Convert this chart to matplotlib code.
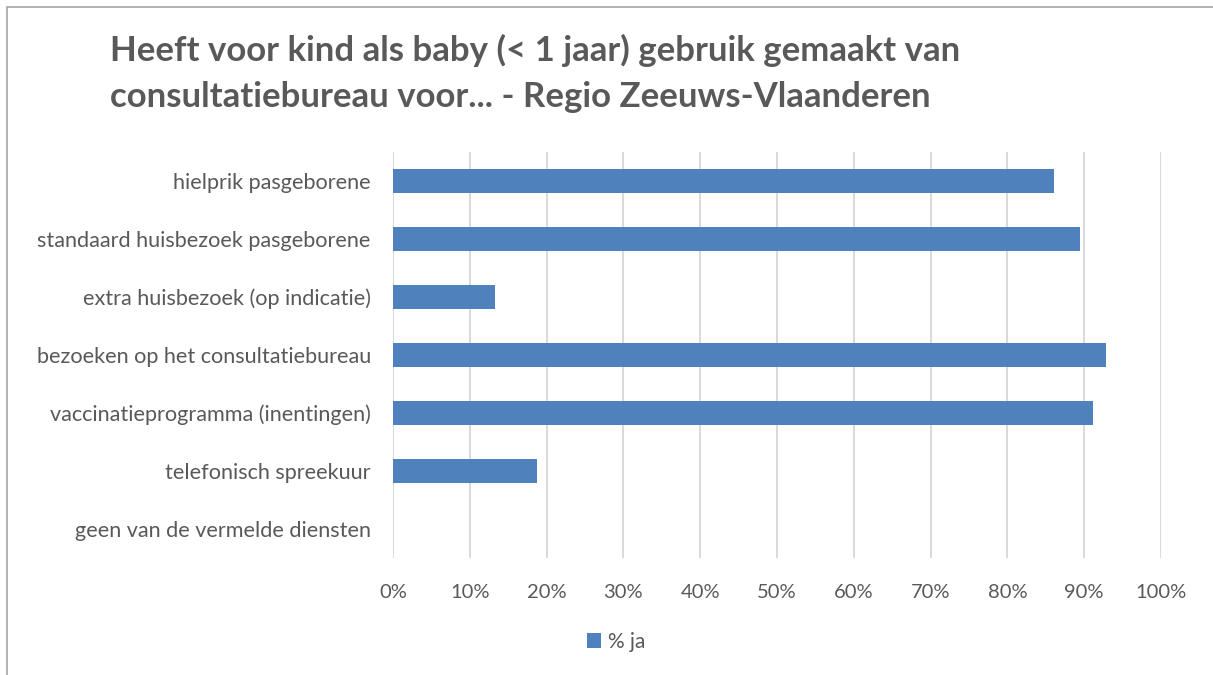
import matplotlib.pyplot as plt
from matplotlib.patches import Rectangle
from matplotlib.ticker import FuncFormatter

categorieen = [
    "hielprik pasgeborene",
    "standaard huisbezoek pasgeborene",
    "extra huisbezoek (op indicatie)",
    "bezoeken op het consultatiebureau",
    "vaccinatieprogramma (inentingen)",
    "telefonisch spreekuur",
    "geen van de vermelde diensten",
]
pct_ja = [86.1, 89.4, 13.3, 92.8, 91.1, 18.8, 0.0]
x_ticks = [0, 10, 20, 30, 40, 50, 60, 70, 80, 90, 100]

grijs = "#595959"
plt.rcParams["font.family"] = ["Lato", "DejaVu Sans"]

fig = plt.figure(figsize=(12.13, 6.75), dpi=100)
ax = fig.add_axes([393 / 1213, 117 / 675, 768 / 1213, 406 / 675])

# rand van de grafiek (rechts en onder vallen buiten beeld)
fig.patches.append(Rectangle((6.5 / 1213, -0.1), 1.2, (668.5 / 675) + 0.1,
                             transform=fig.transFigure, fill=False,
                             edgecolor="#A6A6A6", linewidth=1.2))

posities = list(range(len(categorieen)))
ax.barh(posities, pct_ja, height=0.4, color="#4F81BD",
        edgecolor="none", zorder=3, label="% ja")

ax.set_xlim(0, 100)
ax.set_ylim(len(categorieen) - 0.5, -0.5)
ax.set_xticks(x_ticks)
ax.xaxis.set_major_formatter(FuncFormatter(lambda v, p: f"{v:.0f}%"))
ax.set_yticks(posities)
ax.set_yticklabels(categorieen)
ax.tick_params(axis="both", length=0, labelsize=15.6, colors=grijs)
ax.tick_params(axis="x", pad=19, labelsize=14.5)
ax.tick_params(axis="y", pad=16)
ax.grid(axis="x", color="#D9D9D9", linewidth=1.4, zorder=0)
for s in ax.spines.values():
    s.set_visible(False)

fig.text(110 / 1213, 1 - 50 / 675,
         "Heeft voor kind als baby (< 1 jaar) gebruik gemaakt van",
         fontsize=25, fontweight="bold", color=grijs, va="center", ha="left")
fig.text(110 / 1213, 1 - 97 / 675,
         "consultatiebureau voor... - Regio Zeeuws-Vlaanderen",
         fontsize=25, fontweight="bold", color=grijs, va="center", ha="left")

fig.legend(loc="center", bbox_to_anchor=(616 / 1213, 1 - 642 / 675),
           frameon=False, fontsize=15, labelcolor=grijs,
           handlelength=0.7, handleheight=0.7, handletextpad=0.3)

fig.savefig("out.png", dpi=100)
